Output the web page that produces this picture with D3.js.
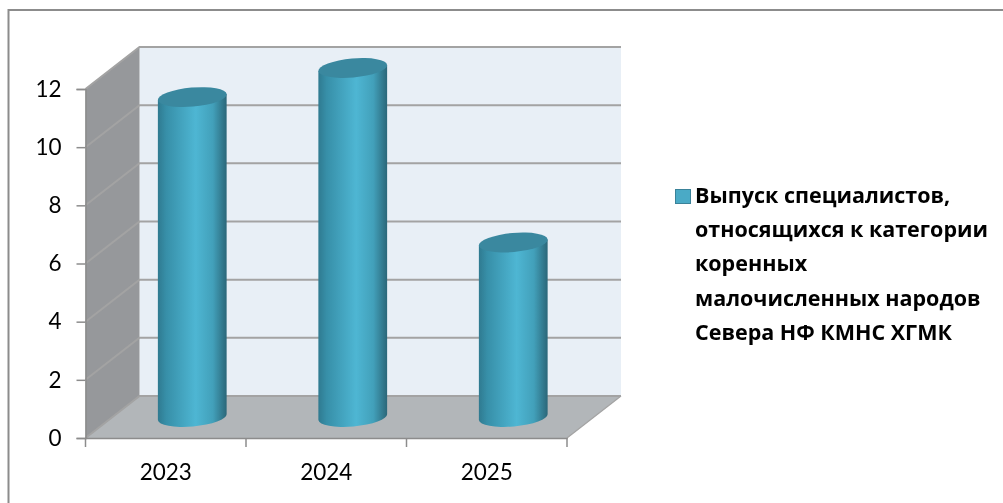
<!DOCTYPE html>
<html>
<head>
<meta charset="utf-8">
<script src="https://cdn.jsdelivr.net/npm/d3@7"></script>
<style>
  html, body { margin: 0; padding: 0; background: #fff; overflow: hidden; }
  svg { display: block; filter: blur(0.45px); }
  text { font-family: Lato, "Open Sans", sans-serif; fill: #000; }
</style>
</head>
<body>
<svg></svg>
<script>
var years = ['2023', '2024', '2025'];
var vypusk = [11, 12, 6];
var yTicks = [0, 2, 4, 6, 8, 10, 12];
var legendLines = ['Выпуск специалистов,', 'относящихся к категории', 'коренных', 'малочисленных народов', 'Севера НФ КМНС ХГМК'];

var width = 1003;
var height = 503;

var DEPTH_X = 54;
var DEPTH_Y = 42;
var BAR_DX = 26.5;
var BAR_DY = 21;
var TILT = -5;

var svg = d3.select('svg').attr('width', width).attr('height', height);

var x = d3.scaleBand().domain(years).range([85.5, 567]);
var y = d3.scaleLinear().domain([0, 12]).range([438, 89]);

var x0 = x.range()[0], x1 = x.range()[1];
var y0 = y(0), yTop = y(12);

var defs = svg.append('defs');
var grad = defs.append('linearGradient').attr('id', 'cyl');
[[0, '#2f7a90'], [0.12, '#378fa8'], [0.55, '#4eb6d3'], [0.8, '#42a0ba'], [1, '#2b6779']].forEach(function(s){
  grad.append('stop').attr('offset', s[0]).attr('stop-color', s[1]);
});

// frame, only top and left are in the picture
svg.append('path')
  .attr('d', d3.line()([[8.5, height], [8.5, 10], [width, 10]]))
  .attr('fill', 'none').attr('stroke', '#8c8c8c').attr('stroke-width', 2);

// walls and floor
svg.append('rect')
  .attr('x', x0 + DEPTH_X).attr('y', yTop - DEPTH_Y)
  .attr('width', x1 - x0).attr('height', y0 - yTop)
  .attr('fill', '#e8eff6');

svg.append('path')
  .attr('d', d3.line()([[x0, y0], [x0, yTop], [x0 + DEPTH_X, yTop - DEPTH_Y], [x0 + DEPTH_X, y0 - DEPTH_Y]]) + 'Z')
  .attr('fill', '#96989b');

svg.append('path')
  .attr('d', d3.line()([[x0, y0], [x1, y0], [x1 + DEPTH_X, y0 - DEPTH_Y], [x0 + DEPTH_X, y0 - DEPTH_Y]]) + 'Z')
  .attr('fill', '#b2b6b9');

// gridlines
svg.append('g').selectAll('path')
  .data(yTicks)
  .enter()
  .append('path')
  .attr('d', function(d){
    return d3.line()([[x0, y(d)], [x0 + DEPTH_X, y(d) - DEPTH_Y], [x1 + DEPTH_X, y(d) - DEPTH_Y]]);
  })
  .attr('fill', 'none')
  .attr('stroke', '#a3a3a3')
  .attr('stroke-width', 2);

// floor right edge
svg.append('line')
  .attr('x1', x1).attr('y1', y0).attr('x2', x1 + DEPTH_X).attr('y2', y0 - DEPTH_Y)
  .attr('stroke', '#a3a3a3').attr('stroke-width', 1.2);

// axes
var axisL = svg.append('g')
  .attr('transform', 'translate(' + x0 + ',0)')
  .call(d3.axisLeft(y).tickValues(yTicks).tickSize(9).tickPadding(15));
var axisB = svg.append('g')
  .attr('transform', 'translate(0,' + y0 + ')')
  .call(d3.axisBottom(x).tickSize(0).tickPadding(26));

axisB.selectAll('line.edge')
  .data(years.map(function(d){ return x(d); }).concat([x1]))
  .enter()
  .append('line')
  .attr('class', 'edge')
  .attr('x1', function(d){ return d; }).attr('x2', function(d){ return d; })
  .attr('y1', 0).attr('y2', 9);

[axisL, axisB].forEach(function(a){
  a.selectAll('.domain, line').attr('stroke', '#8c8c8c').attr('stroke-width', 1.5);
  a.selectAll('text').attr('font-size', 22.5).attr('fill', '#000')
    .style('font-family', 'Lato, "Open Sans", sans-serif');
});

// cylinders
var rx = x.bandwidth() * 0.215;
var ry = 9.5;
var cosT = Math.cos(TILT * Math.PI / 180), sinT = Math.sin(TILT * Math.PI / 180);

svg.append('g').selectAll('g')
  .data(vypusk)
  .enter()
  .append('g')
  .each(function(d, i){
    var g = d3.select(this);
    var cx = x(years[i]) + x.bandwidth() / 2 + BAR_DX;
    var yb = y(0) - BAR_DY;
    var yt = y(d) - BAR_DY;
    var ox = rx * cosT, oy = rx * sinT;

    g.append('path')
      .attr('d', 'M' + (cx - ox) + ',' + (yt - oy) +
        'L' + (cx - ox) + ',' + (yb - oy) +
        'A' + rx + ',' + ry + ' ' + TILT + ' 0 0 ' + (cx + ox) + ',' + (yb + oy) +
        'L' + (cx + ox) + ',' + (yt + oy) + 'Z')
      .attr('fill', 'url(#cyl)');

    g.append('ellipse')
      .attr('rx', rx).attr('ry', ry)
      .attr('transform', 'translate(' + cx + ',' + yt + ') rotate(' + TILT + ')')
      .attr('fill', '#3a889f');
  });

// legend
var legend = svg.append('g');
legend.append('rect')
  .attr('x', 675.5).attr('y', 189.5).attr('width', 15).attr('height', 14)
  .attr('fill', '#4aaac6').attr('stroke', '#3a8299').attr('stroke-width', 1);

legend.selectAll('text')
  .data(legendLines)
  .enter()
  .append('text')
  .attr('x', 695)
  .attr('y', function(d, i){ return 203 + i * 34.2; })
  .attr('font-size', 21.5)
  .attr('font-weight', 700)
  .style('font-family', '"Open Sans", sans-serif')
  .text(function(d){ return d; });
</script>
</body>
</html>
